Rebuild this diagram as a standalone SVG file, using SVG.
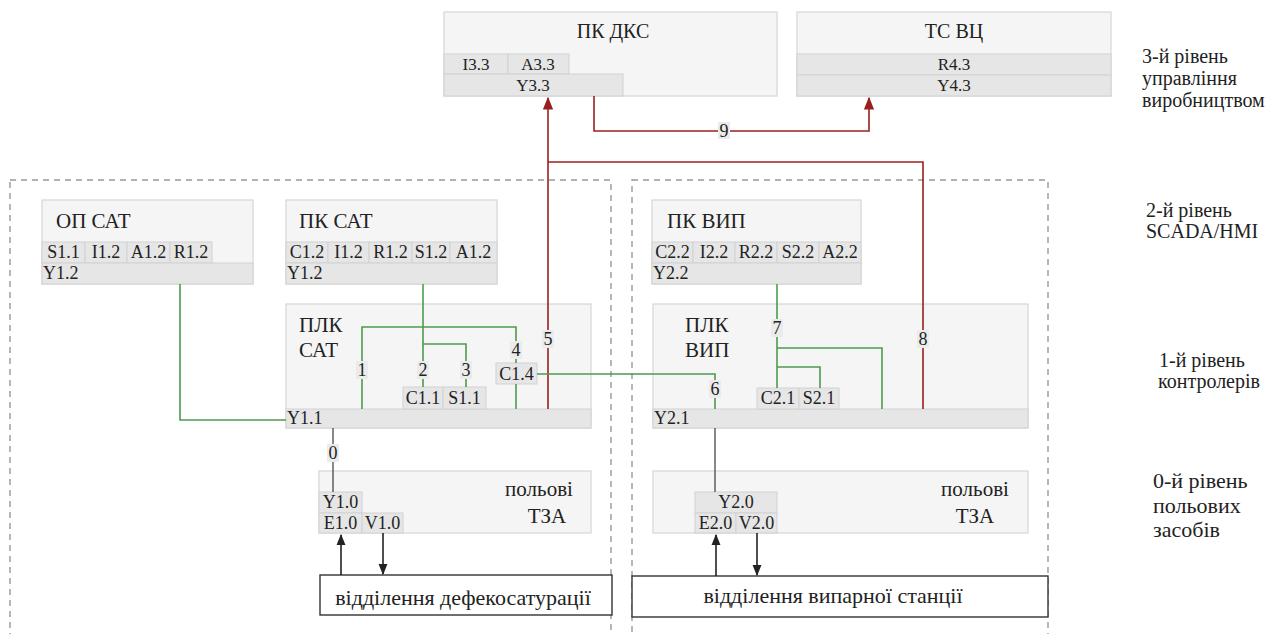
<svg xmlns="http://www.w3.org/2000/svg" width="1281" height="634" viewBox="0 0 1281 634" font-family="'Liberation Serif', 'DejaVu Serif', serif">
<defs>
<style>
text{font-family:'Liberation Serif','DejaVu Serif',serif;fill:#222}
.box{fill:#f5f5f5;stroke:#d6d6d6;stroke-width:1.2}
.cell{fill:#e6e6e6;stroke:#d2d2d2;stroke-width:1}
.t{font-size:21px}
.tt{font-size:20px}
.c{font-size:18px}
.ct{font-size:17px}
.n{font-size:18px}
.lv{font-size:20px}
.lv0{font-size:22px}
.dp{font-size:22px}
.mid{text-anchor:middle}
.g{stroke:#4f9a4f;stroke-width:1.6;fill:none}
.r{stroke:#9a2020;stroke-width:1.6;fill:none}
.k{stroke:#555;stroke-width:1.4;fill:none}
.b{stroke:#222;stroke-width:1.6;fill:none}
.lb{fill:#ebebeb}
.dash{fill:none;stroke:#999;stroke-width:1.4;stroke-dasharray:6,5}
.dept{fill:#fff;stroke:#333;stroke-width:1.4}
</style>
<marker id="ar" viewBox="0 0 10 10" refX="9" refY="5" markerWidth="8" markerHeight="8" orient="auto"><path d="M0,1 L10,5 L0,9 z" fill="#9a2020"/></marker>
<marker id="ak" viewBox="0 0 10 10" refX="9" refY="5" markerWidth="7" markerHeight="7" orient="auto"><path d="M0,1 L10,5 L0,9 z" fill="#222"/></marker>
</defs>

<g id="panels">
<rect class="dash" x="10" y="180" width="601" height="470"/>
<rect class="dash" x="632" y="180" width="416" height="470"/>
</g>

<g id="pk-dks">
<rect class="box" x="444" y="12" width="333" height="84"/>
<text class="tt mid" x="613" y="38">ПК ДКС</text>
<rect class="cell" x="444" y="54" width="64" height="20"/><text class="ct mid" x="476" y="70">I3.3</text>
<rect class="cell" x="508" y="54" width="61" height="20"/><text class="ct mid" x="538" y="70">A3.3</text>
<rect class="cell" x="444" y="74" width="179" height="22"/><text class="ct mid" x="533" y="91">Y3.3</text>
</g>

<g id="ts-vc">
<rect class="box" x="797" y="12" width="314" height="84"/>
<text class="tt mid" x="954" y="38">ТС ВЦ</text>
<rect class="cell" x="797" y="54" width="314" height="21"/><text class="ct mid" x="954" y="70">R4.3</text>
<rect class="cell" x="797" y="75" width="314" height="21"/><text class="ct mid" x="954" y="91">Y4.3</text>
</g>

<g id="op-sat">
<rect class="box" x="42" y="200" width="211" height="84"/>
<text class="t" x="56" y="228">ОП САТ</text>
<rect class="cell" x="42" y="242" width="43" height="21"/><text class="c mid" x="63.5" y="258">S1.1</text>
<rect class="cell" x="85" y="242" width="42" height="21"/><text class="c mid" x="106" y="258">I1.2</text>
<rect class="cell" x="127" y="242" width="43" height="21"/><text class="c mid" x="148.5" y="258">A1.2</text>
<rect class="cell" x="170" y="242" width="42" height="21"/><text class="c mid" x="191" y="258">R1.2</text>
<rect class="cell" x="42" y="263" width="211" height="21"/><text class="c" x="43" y="279">Y1.2</text>
</g>

<g id="pk-sat">
<rect class="box" x="286" y="200" width="211" height="84"/>
<text class="t" x="299" y="228">ПК САТ</text>
<rect class="cell" x="286" y="242" width="42" height="21"/><text class="c mid" x="307" y="258">C1.2</text>
<rect class="cell" x="328" y="242" width="41" height="21"/><text class="c mid" x="348.5" y="258">I1.2</text>
<rect class="cell" x="369" y="242" width="43" height="21"/><text class="c mid" x="390.5" y="258">R1.2</text>
<rect class="cell" x="412" y="242" width="38" height="21"/><text class="c mid" x="431" y="258">S1.2</text>
<rect class="cell" x="450" y="242" width="47" height="21"/><text class="c mid" x="473.5" y="258">A1.2</text>
<rect class="cell" x="286" y="263" width="211" height="21"/><text class="c" x="287" y="279">Y1.2</text>
</g>

<g id="plk-sat">
<rect class="box" x="286" y="304" width="305" height="124"/>
<text class="t" x="299" y="332">ПЛК</text>
<text class="t" x="299" y="357">САТ</text>
<rect class="cell" x="286" y="409" width="305" height="19"/><text class="c" x="287" y="424">Y1.1</text>
<rect class="cell" x="403" y="387" width="40" height="22"/><text class="c mid" x="423" y="404">C1.1</text>
<rect class="cell" x="443" y="387" width="43" height="22"/><text class="c mid" x="464.5" y="404">S1.1</text>
<rect class="cell" x="496" y="363" width="41" height="21"/><text class="c mid" x="516.5" y="380">C1.4</text>
</g>

<g id="field-sat">
<rect class="box" x="319" y="471" width="272" height="62"/>
<text class="t mid" x="539" y="496">польові</text>
<text class="t mid" x="547" y="523">ТЗА</text>
<rect class="cell" x="319" y="492" width="43" height="21"/><text class="c mid" x="340.5" y="508">Y1.0</text>
<rect class="cell" x="319" y="513" width="43" height="20"/><text class="c mid" x="340.5" y="529">E1.0</text>
<rect class="cell" x="362" y="513" width="41" height="20"/><text class="c mid" x="382.5" y="529">V1.0</text>
</g>

<g id="dept-sat">
<rect class="dept" x="320" y="575" width="292" height="40"/>
<text class="dp mid" x="463" y="605">відділення дефекосатурації</text>
</g>

<g id="pk-vip">
<rect class="box" x="652" y="200" width="209" height="84"/>
<text class="t" x="667" y="228">ПК ВИП</text>
<rect class="cell" x="652" y="242" width="41" height="21"/><text class="c mid" x="672.5" y="258">C2.2</text>
<rect class="cell" x="693" y="242" width="42" height="21"/><text class="c mid" x="714" y="258">I2.2</text>
<rect class="cell" x="735" y="242" width="42" height="21"/><text class="c mid" x="756" y="258">R2.2</text>
<rect class="cell" x="777" y="242" width="42" height="21"/><text class="c mid" x="798" y="258">S2.2</text>
<rect class="cell" x="819" y="242" width="42" height="21"/><text class="c mid" x="840" y="258">A2.2</text>
<rect class="cell" x="652" y="263" width="209" height="21"/><text class="c" x="653" y="279">Y2.2</text>
</g>

<g id="plk-vip">
<rect class="box" x="653" y="304" width="375" height="124"/>
<text class="t" x="685" y="332">ПЛК</text>
<text class="t" x="685" y="357">ВИП</text>
<rect class="cell" x="653" y="409" width="375" height="19"/><text class="c" x="654" y="424">Y2.1</text>
<rect class="cell" x="757" y="388" width="42" height="21"/><text class="c mid" x="778" y="404">C2.1</text>
<rect class="cell" x="799" y="388" width="40" height="21"/><text class="c mid" x="819" y="404">S2.1</text>
</g>

<g id="field-vip">
<rect class="box" x="653" y="471" width="375" height="62"/>
<text class="t mid" x="975" y="496">польові</text>
<text class="t mid" x="975" y="523">ТЗА</text>
<rect class="cell" x="695" y="492" width="82" height="21"/><text class="c mid" x="736" y="508">Y2.0</text>
<rect class="cell" x="695" y="513" width="41" height="20"/><text class="c mid" x="715.5" y="529">E2.0</text>
<rect class="cell" x="736" y="513" width="41" height="20"/><text class="c mid" x="756.5" y="529">V2.0</text>
</g>

<g id="dept-vip">
<rect class="dept" x="632" y="576" width="416" height="41"/>
<text class="dp mid" x="833" y="603">відділення випарної станції</text>
</g>

<g id="levels">
<text class="lv" x="1142" y="63">3-й рівень</text>
<text class="lv" x="1142" y="85">управління</text>
<text class="lv" x="1142" y="107">виробництвом</text>
<text class="lv" x="1146" y="217">2-й рівень</text>
<text class="lv" x="1146" y="238">SCADA/HMI</text>
<text class="lv" x="1159" y="367">1-й рівень</text>
<text class="lv" x="1158" y="388">контролерів</text>
<text class="lv0" x="1153" y="488">0-й рівень</text>
<text class="lv0" x="1153" y="513">польових</text>
<text class="lv0" x="1153" y="537">засобів</text>
</g>

<g id="connectors">
<path class="r" d="M594,96 V131 H869 V98" marker-end="url(#ar)"/>
<path class="r" d="M548,409 V98" marker-end="url(#ar)"/>
<path class="r" d="M923,409 V162 H548"/>
<path class="g" d="M180,284 V420 H286"/>
<path class="g" d="M423,284 V387"/>
<path class="g" d="M423,344 H466 V387"/>
<path class="g" d="M362,409 V327 H516 V363"/>
<path class="g" d="M516,384 V409"/>
<path class="g" d="M537,374 H715 V409"/>
<path class="g" d="M777,284 V388"/>
<path class="g" d="M777,348 H882 V409"/>
<path class="g" d="M777,367 H820 V388"/>
<path class="k" d="M333,428 V492"/>
<path class="k" d="M715,428 V492"/>
<path class="b" d="M341,575 V535" marker-end="url(#ak)"/>
<path class="b" d="M383,533 V574" marker-end="url(#ak)"/>
<path class="b" d="M716,576 V535" marker-end="url(#ak)"/>
<path class="b" d="M757,533 V575" marker-end="url(#ak)"/>
<rect class="lb" x="718" y="122" width="12" height="17"/><text class="n mid" x="724" y="137">9</text>
<rect class="lb" x="542" y="330" width="12" height="18"/><text class="n mid" x="548" y="345">5</text>
<rect class="lb" x="917" y="330" width="12" height="18"/><text class="n mid" x="923" y="345">8</text>
<rect class="lb" x="356" y="361" width="12" height="18"/><text class="n mid" x="362" y="376">1</text>
<rect class="lb" x="417" y="361" width="12" height="18"/><text class="n mid" x="423" y="376">2</text>
<rect class="lb" x="460" y="361" width="12" height="18"/><text class="n mid" x="466" y="376">3</text>
<rect class="lb" x="510" y="341" width="12" height="18"/><text class="n mid" x="516" y="356">4</text>
<rect class="lb" x="709" y="380" width="12" height="18"/><text class="n mid" x="715" y="395">6</text>
<rect class="lb" x="771" y="319" width="12" height="18"/><text class="n mid" x="777" y="334">7</text>
<rect class="lb" x="327" y="444" width="12" height="18"/><text class="n mid" x="333" y="459">0</text>
</g>
</svg>
